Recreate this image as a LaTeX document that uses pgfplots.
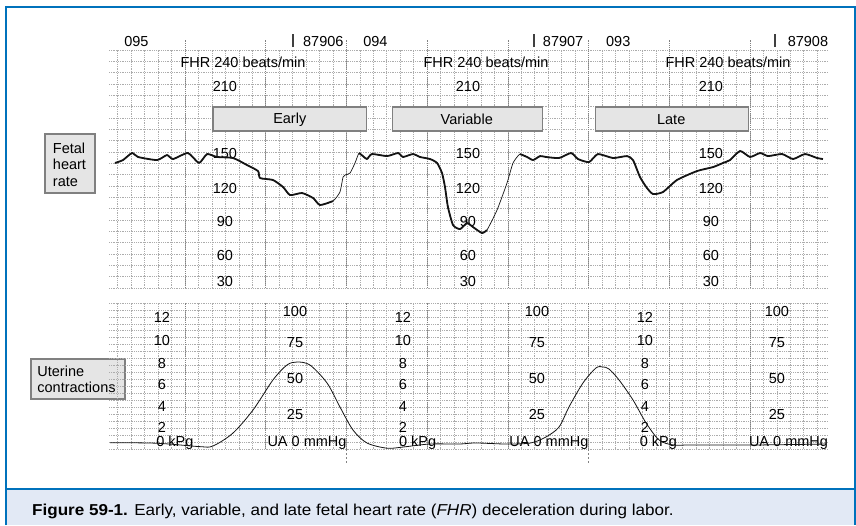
\documentclass[border=0pt]{standalone}
\usepackage{pgfplots}
\usepackage{pgfplotstable}
\pgfplotsset{compat=1.18}
\usepackage{fontspec}
\setmainfont{Liberation Sans}
\newfontfamily\capfont[FakeStretch=1.08]{Liberation Sans}

\definecolor{frameblue}{RGB}{0,114,188}
\definecolor{capband}{RGB}{226,233,245}
\definecolor{boxfill}{RGB}{229,229,229}
\definecolor{boxline}{RGB}{128,128,128}
\definecolor{gridminor}{RGB}{172,172,172}
\definecolor{gridmajor}{RGB}{130,130,130}
\definecolor{inktrace}{RGB}{20,20,20}

% fetal heart rate, beats/min against chart squares
\pgfplotstableread{
t bpm
0.80 140.3
1.39 142.9
2.06 149.1
2.51 145.6
3.92 142.9
4.66 147.3
5.11 143.8
6.22 149.1
7.04 140.3
7.64 148.2
8.38 145.6
9.57 144.7
10.61 138.5
11.43 133.2
11.58 127.0
12.54 125.3
13.29 119.1
13.81 112.0
14.70 113.8
15.52 109.4
16.04 103.2
17.00 106.7
17.52 114.7
17.75 127.9
17.90 129.7
18.27 131.4
18.64 140.3
18.94 149.1
19.23 146.4
19.53 143.8
19.90 148.2
21.02 146.4
21.84 149.1
22.21 145.6
22.95 148.2
23.47 145.6
24.22 143.8
24.74 140.3
25.11 131.4
25.33 119.1
25.55 101.4
25.93 85.5
26.45 82.0
26.97 87.3
27.41 83.8
28.08 78.5
28.45 81.1
29.20 98.8
29.94 122.6
30.39 140.3
30.91 148.2
31.43 145.6
31.88 142.9
32.40 146.4
32.84 145.6
33.81 144.7
34.70 149.1
35.22 143.8
36.04 141.1
36.70 148.2
37.82 144.7
38.87 146.4
39.31 142.9
39.83 127.9
40.35 118.2
40.80 112.9
41.54 114.7
42.58 125.3
44.07 133.2
45.26 136.7
46.00 140.3
46.52 142.9
47.27 150.9
48.01 145.6
48.76 149.1
49.35 146.4
50.39 148.2
51.21 143.8
52.10 148.2
52.99 144.7
53.43 143.8
}\fhrdata

% uterine activity, mmHg against chart squares
\pgfplotstableread{
t mmHg
0.43 0.2
3.92 -0.2
7.11 -2.8
8.08 -2.3
9.57 7.6
11.06 25.2
12.54 48.1
13.58 59.5
14.33 61.8
15.29 59.5
16.56 45.8
17.52 27.5
18.49 9.9
19.53 0.0
21.02 -4.0
22.21 -3.1
24.20 -0.8
26.40 -0.8
27.60 0.0
29.90 -0.8
31.70 0.0
32.84 4.6
33.81 12.2
34.55 27.5
35.59 45.8
36.56 57.3
37.08 58.0
37.52 56.5
38.27 48.1
39.31 32.8
40.28 15.3
41.25 2.3
42.29 -1.5
43.78 -1.5
48.68 -1.5
53.66 -0.8
}\uadata

\pgfplotsset{
  ctgpaper/.style={
    x=13.45pt, xmin=0.35, xmax=53.8,
    axis line style={draw=none},
    tick style={draw=none},
    xtick={1,...,53},
    xticklabels={}, yticklabels={},
    tick label style={opacity=0},
    grid=major,
    major grid style={gridminor, line width=0.5pt, dash pattern=on 0.7pt off 1.1pt},
    extra x ticks={6,12,18,24,30,36,42,48},
    extra x tick labels={},
    extra x tick style={grid=major, major grid style={gridmajor, line width=0.6pt, dash pattern=on 1pt off 1pt}},
    clip=false,
    font=\fontsize{14.5}{16.5}\selectfont,
  },
}
\tikzset{segbox/.style={draw=boxline, fill=boxfill, line width=1.1pt}}

\begin{document}
\begin{tikzpicture}[x=1pt,y=1pt]
\useasboundingbox (0,0) rectangle (856,525);

% page frame and caption band
\fill[capband] (6,0) rectangle (854.5,36);
\draw[frameblue, line width=2pt] (6,36) -- (854.5,36);
\draw[frameblue, line width=2pt] (6,0) -- (6,517.5) -- (854.5,517.5) -- (854.5,0);
\node[anchor=west, inner sep=0pt] at (32,14)
  {\capfont\fontsize{15.8}{18}\selectfont\textbf{Figure 59-1.} Early, variable, and late fetal heart rate (\textit{FHR}) deceleration during labor.};

% side labels
\node[segbox, minimum width=50pt, minimum height=59pt, inner sep=0pt] at (70,361.5) {};
\node[align=left, inner sep=0pt, font=\fontsize{14.5}{16.5}\selectfont] at (69.5,360.5) {Fetal\\heart\\rate};
\node[segbox, minimum width=94pt, minimum height=40pt, inner sep=0pt] at (78,146) {};
\node[align=left, inner sep=0pt, font=\fontsize{14.5}{16.5}\selectfont] at (76.5,145.5) {Uterine\\contractions};

% fetal heart rate strip
\begin{axis}[ctgpaper,
  at={(109pt,237pt)}, anchor=south west,
  y=1.1333pt, ymin=30, ymax=240,
  ytick={30,40,...,240},
]
\draw[gridmajor, line width=0.6pt, dash pattern=on 1pt off 1pt]
  (6,240) -- (6,249) (12,240) -- (12,249) (18,240) -- (18,249) (24,240) -- (24,249)
  (30,240) -- (30,249) (36,240) -- (36,249) (42,240) -- (42,249) (48,240) -- (48,249);

% strip headers
\node[anchor=west, inner sep=0pt] at (1.47,247.1) {095};
\node[anchor=west, inner sep=0pt] at (19.24,247.1) {094};
\node[anchor=west, inner sep=0pt] at (37.30,247.1) {093};
\draw[black!75, line width=1.6pt] (14.03,242.6) -- (14.03,254);
\draw[black!75, line width=1.6pt] (31.95,242.6) -- (31.95,254);
\draw[black!75, line width=1.6pt] (49.86,242.6) -- (49.86,254);
\node[anchor=west, inner sep=0pt] at (14.77,247.1) {87906};
\node[anchor=west, inner sep=0pt] at (32.60,247.1) {87907};
\node[anchor=west, inner sep=0pt] at (50.80,247.1) {87908};

\node[inner sep=0pt] at (10.31,229.4) {FHR 240 beats/min};
\node[inner sep=0pt] at (28.38,229.4) {FHR 240 beats/min};
\node[inner sep=0pt] at (46.37,229.4) {FHR 240 beats/min};

% scale figures
\node[inner sep=0pt] at (8.97,207.5) {210};
\node[inner sep=0pt] at (8.97,149.0) {150};
\node[inner sep=0pt] at (8.97,118.0) {120};
\node[inner sep=0pt] at (8.97,89.0) {90};
\node[inner sep=0pt] at (8.97,59.0) {60};
\node[inner sep=0pt] at (8.97,36.0) {30};
\node[inner sep=0pt] at (27.04,207.5) {210};
\node[inner sep=0pt] at (27.04,149.0) {150};
\node[inner sep=0pt] at (27.04,118.0) {120};
\node[inner sep=0pt] at (27.04,89.0) {90};
\node[inner sep=0pt] at (27.04,59.0) {60};
\node[inner sep=0pt] at (27.04,36.0) {30};
\node[inner sep=0pt] at (45.10,207.5) {210};
\node[inner sep=0pt] at (45.10,149.0) {150};
\node[inner sep=0pt] at (45.10,118.0) {120};
\node[inner sep=0pt] at (45.10,89.0) {90};
\node[inner sep=0pt] at (45.10,59.0) {60};
\node[inner sep=0pt] at (45.10,36.0) {30};

% deceleration types
\draw[segbox] (8.08,168.5) rectangle (19.5,189.7);
\draw[segbox] (21.4,168.5) rectangle (32.6,189.7);
\draw[segbox] (36.5,168.5) rectangle (47.9,189.7);
\node[inner sep=0pt] at (13.79,178.5) {Early};
\node[inner sep=0pt] at (26.95,178.5) {Variable};
\node[inner sep=0pt] at (42.15,178.5) {Late};

% trace: fine pen everywhere, heavy pen where the trace is steady
\addplot[inktrace, line width=0.7pt, smooth, tension=0.35, line join=round] table[x=t, y=bpm] {\fhrdata};
\addplot[inktrace, line width=1.8pt, smooth, tension=0.35, line join=round, restrict x to domain=0:17.0] table[x=t, y=bpm] {\fhrdata};
\addplot[inktrace, line width=1.8pt, smooth, tension=0.35, line join=round, restrict x to domain=18.94:28.45] table[x=t, y=bpm] {\fhrdata};
\addplot[inktrace, line width=1.8pt, smooth, tension=0.35, line join=round, restrict x to domain=30.91:54] table[x=t, y=bpm] {\fhrdata};
\end{axis}

% uterine activity strip
\begin{axis}[ctgpaper,
  at={(109pt,76pt)}, anchor=south west,
  y=1.31pt, ymin=-4.6, ymax=106.95,
  ytick={-4.6,0.71,...,106.95},
]
\draw[gridmajor, line width=0.7pt, dash pattern=on 2pt off 2pt] (18,-4.6) -- (18,-15.3) (36,-4.6) -- (36,-15.3);

\node[inner sep=0pt] at (4.29,96.2) {12};
\node[inner sep=0pt] at (4.29,77.9) {10};
\node[inner sep=0pt] at (4.29,60.3) {8};
\node[inner sep=0pt] at (4.29,44.3) {6};
\node[inner sep=0pt] at (4.29,27.5) {4};
\node[inner sep=0pt] at (4.29,11.5) {2};
\node[anchor=west, inner sep=0pt] at (3.85,0) {0 kPg};
\node[inner sep=0pt] at (22.20,96.2) {12};
\node[inner sep=0pt] at (22.20,77.9) {10};
\node[inner sep=0pt] at (22.20,60.3) {8};
\node[inner sep=0pt] at (22.20,44.3) {6};
\node[inner sep=0pt] at (22.20,27.5) {4};
\node[inner sep=0pt] at (22.20,11.5) {2};
\node[anchor=west, inner sep=0pt] at (21.90,0) {0 kPg};
\node[inner sep=0pt] at (40.20,96.2) {12};
\node[inner sep=0pt] at (40.20,77.9) {10};
\node[inner sep=0pt] at (40.20,60.3) {8};
\node[inner sep=0pt] at (40.20,44.3) {6};
\node[inner sep=0pt] at (40.20,27.5) {4};
\node[inner sep=0pt] at (40.20,11.5) {2};
\node[anchor=west, inner sep=0pt] at (39.80,0) {0 kPg};

\node[inner sep=0pt] at (14.18,100) {100};
\node[inner sep=0pt] at (14.18,76.3) {75};
\node[inner sep=0pt] at (14.18,48.9) {50};
\node[inner sep=0pt] at (14.18,22.1) {25};
\node[inner sep=0pt] at (15.07,0) {UA 0 mmHg};
\node[inner sep=0pt] at (32.17,100) {100};
\node[inner sep=0pt] at (32.17,76.3) {75};
\node[inner sep=0pt] at (32.17,48.9) {50};
\node[inner sep=0pt] at (32.17,22.1) {25};
\node[inner sep=0pt] at (33.06,0) {UA 0 mmHg};
\node[inner sep=0pt] at (50.01,100) {100};
\node[inner sep=0pt] at (50.01,76.3) {75};
\node[inner sep=0pt] at (50.01,48.9) {50};
\node[inner sep=0pt] at (50.01,22.1) {25};
\node[inner sep=0pt] at (50.87,0) {UA 0 mmHg};

\addplot[inktrace, line width=0.8pt, smooth, tension=0.5] table[x=t, y=mmHg] {\uadata};
\end{axis}
\end{tikzpicture}
\end{document}
